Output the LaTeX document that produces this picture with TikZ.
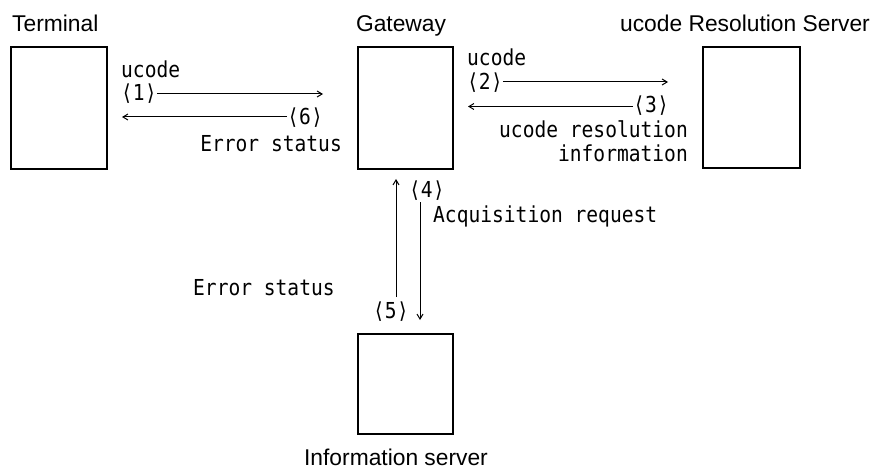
\documentclass[tikz,border=0pt]{standalone}
\usepackage{fontspec}
\setmainfont{Liberation Sans}
\newfontfamily\gothic[FakeStretch=0.89]{DejaVu Sans Mono}
\usetikzlibrary{arrows.meta}
\begin{document}
\begin{tikzpicture}[x=1pt, y=-1pt,
  unitbox/.style={draw, line width=1.6pt, inner sep=0pt},
  title/.style={font=\fontsize{22.8}{26}\selectfont, inner sep=0pt},
  lab/.style={font=\gothic\fontsize{22}{24}\selectfont, inner sep=0pt},
  flow/.style={draw, line width=1pt, -{Straight Barb[length=5pt,width=6pt]}}]
  \useasboundingbox (0,0) rectangle (881,468);

  % the four units
  \node[unitbox, minimum width=96pt, minimum height=122pt] (term) at (59,108) {};
  \node[unitbox, minimum width=95pt, minimum height=122pt] (gw) at (405.5,108) {};
  \node[unitbox, minimum width=97pt, minimum height=121pt] (urs) at (751.5,107.5) {};
  \node[unitbox, minimum width=95pt, minimum height=100pt] (info) at (405.5,384) {};

  % unit titles
  \node[title, anchor=base west] (termT) at (12,32) {Terminal};
  \node[title, anchor=base] (gwT) at (401,32) {Gateway};
  \node[title, anchor=base] (ursT) at (745,32) {ucode Resolution Server};
  \node[title, anchor=base] (infoT) at (396,465) {Information server};

  % terminal <-> gateway
  \node[lab, anchor=base west] (uc1) at (121,78) {ucode};
  \node[lab, anchor=base west] (n1) at (121,101) {⟨1⟩};
  \coordinate (e1) at (323,94);
  \draw[flow] (n1.east |- e1) -- (e1);
  \node[lab, anchor=base east] (n6) at (323,125) {⟨6⟩};
  \coordinate (w6) at (122,117);
  \draw[flow] (n6.west |- w6) -- (w6);
  \node[lab, anchor=base east] (err1) at (342,152) {Error status};

  % gateway <-> resolution server
  \node[lab, anchor=base west] (uc2) at (467,66) {ucode};
  \node[lab, anchor=base west] (n2) at (467,89.5) {⟨2⟩};
  \coordinate (e2) at (668,82);
  \draw[flow] (n2.east |- e2) -- (e2);
  \node[lab, anchor=base east] (n3) at (669,113) {⟨3⟩};
  \coordinate (w3) at (468,106.5);
  \draw[flow] (n3.west |- w3) -- (w3);
  \node[lab, anchor=base east] (res) at (688,138) {ucode resolution};
  \node[lab, anchor=base east] (inf) at (688,162) {information};

  % gateway <-> information server
  \coordinate (up0) at (396,297);
  \coordinate (up1) at (396,179);
  \draw[flow] (up0) -- (up1);
  \coordinate (dn0) at (420,202);
  \coordinate (dn1) at (420,320);
  \draw[flow] (dn0) -- (dn1);
  \node[lab, anchor=base west] (n4) at (409,197) {⟨4⟩};
  \node[lab, anchor=base west] (acq) at (433,222) {Acquisition request};
  \node[lab, anchor=base west] (err2) at (193,295) {Error status};
  \node[lab, anchor=base west] (n5) at (373,318) {⟨5⟩};
\end{tikzpicture}
\end{document}
